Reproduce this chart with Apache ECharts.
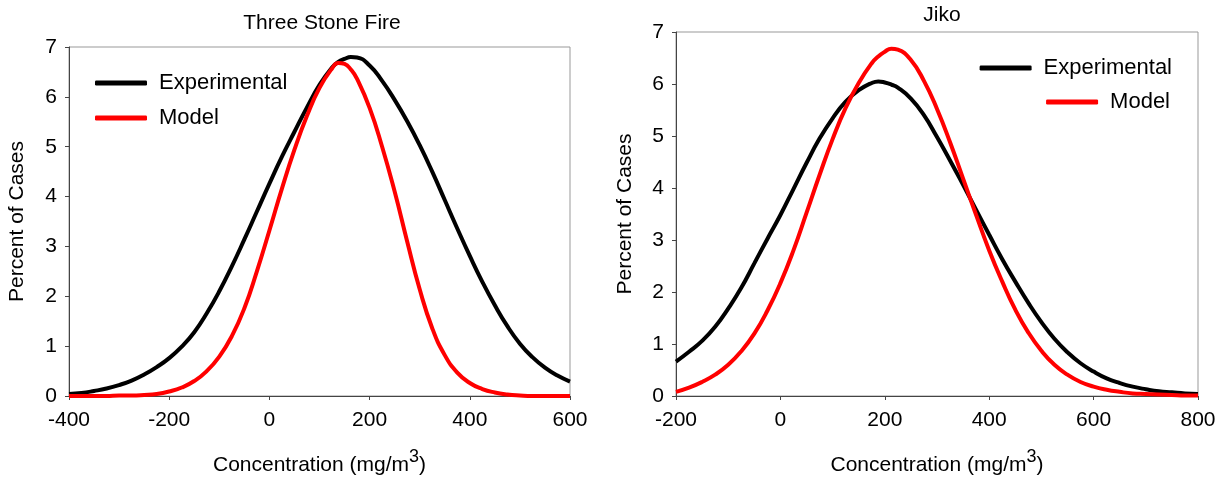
<!DOCTYPE html>
<html>
<head>
<meta charset="utf-8">
<script src="https://cdn.jsdelivr.net/npm/echarts@6/dist/echarts.min.js"></script>
<style>
  html, body { margin: 0; padding: 0; background: #fff; }
  #chart { width: 1226px; height: 481px; }
</style>
</head>
<body>
<div id="chart"></div>
<script>
// Three Stone Fire (left)
const leftX = [-400, -375, -350, -325, -300, -275, -250, -225, -200, -175, -150, -125, -100, -75, -50, -25,
  0, 25, 50, 75, 100, 125, 137.5, 150, 162.5, 175, 200, 225, 250, 275, 300, 325, 350, 375, 400, 425, 450, 475, 500, 525, 550, 575, 600]
const leftExp = [0.04, 0.06, 0.10, 0.15, 0.22, 0.31, 0.43, 0.58, 0.76, 0.99, 1.28, 1.66, 2.10, 2.60, 3.14, 3.70,
  4.26, 4.80, 5.30, 5.79, 6.24, 6.59, 6.70, 6.76, 6.80, 6.79, 6.63, 6.32, 5.94, 5.51, 5.03, 4.50, 3.93, 3.36, 2.81, 2.29, 1.82, 1.40, 1.05, 0.78, 0.57, 0.41, 0.29]
const leftModel = [0.00, 0.00, 0.00, 0.00, 0.01, 0.01, 0.02, 0.04, 0.09, 0.17, 0.30, 0.50, 0.79, 1.20, 1.76, 2.50,
  3.32, 4.16, 4.94, 5.62, 6.18, 6.57, 6.68, 6.66, 6.55, 6.36, 5.78, 5.00, 4.10, 3.10, 2.14, 1.36, 0.82, 0.47, 0.26, 0.14, 0.07, 0.03, 0.01, 0.00, 0.00, 0.00, 0.00]

// Jiko (right)
const rightX = [-200, -175, -150, -125, -100, -75, -50, -25, 0, 25, 50, 75, 100, 125, 150, 175, 187.5, 200, 212.5, 225, 250, 275,
  300, 325, 350, 375, 400, 425, 450, 475, 500, 525, 550, 575, 600, 625, 650, 675, 700, 725, 750, 775, 800]
const rightExp = [0.66, 0.85, 1.06, 1.33, 1.68, 2.08, 2.55, 3.02, 3.48, 3.98, 4.48, 4.95, 5.34, 5.66, 5.88, 6.02, 6.05, 6.03, 5.99, 5.93, 5.72, 5.40,
  4.98, 4.53, 4.06, 3.58, 3.10, 2.63, 2.20, 1.79, 1.42, 1.10, 0.84, 0.63, 0.47, 0.34, 0.25, 0.18, 0.13, 0.09, 0.07, 0.05, 0.04]
const rightModel = [0.08, 0.16, 0.27, 0.41, 0.60, 0.86, 1.20, 1.64, 2.17, 2.80, 3.52, 4.25, 4.94, 5.54, 6.02, 6.40, 6.53, 6.62, 6.68, 6.66, 6.46, 6.06,
  5.52, 4.88, 4.18, 3.48, 2.80, 2.20, 1.66, 1.22, 0.87, 0.60, 0.41, 0.27, 0.18, 0.12, 0.08, 0.05, 0.04, 0.03, 0.02, 0.01, 0.01]

const font = 'Liberation Sans, Arial, sans-serif'

const pairs = (xs, ys) => xs.map((x, i) => [x, ys[i]])

const xAxisOpt = (idx, min, max) => ({
  type: 'value',
  gridIndex: idx,
  min: min,
  max: max,
  interval: 200,
  name: '{a|Concentration (mg/m}{b|3}{a|)}',
  nameLocation: 'middle',
  nameGap: 52,
  nameTextStyle: {
    rich: {
      a: { fontSize: 21, fontFamily: font, color: '#000', lineHeight: 28, verticalAlign: 'bottom' },
      b: { fontSize: 18, fontFamily: font, color: '#000', lineHeight: 28, verticalAlign: 'top' }
    }
  },
  axisLine: { onZero: false, lineStyle: { color: '#444', width: 1 } },
  axisTick: { length: 4, lineStyle: { color: '#444' } },
  axisLabel: { fontSize: 21, fontFamily: font, color: '#000', margin: 14 },
  splitLine: { show: false }
})

const yAxisOpt = (idx, gap) => ({
  type: 'value',
  gridIndex: idx,
  min: 0,
  max: 7,
  interval: 1,
  name: 'Percent of Cases',
  nameLocation: 'middle',
  nameGap: gap,
  nameTextStyle: { fontSize: 21, fontFamily: font, color: '#000' },
  axisLine: { show: true, onZero: false, lineStyle: { color: '#444', width: 1 } },
  axisTick: { show: true, length: 4, lineStyle: { color: '#444' } },
  axisLabel: { fontSize: 21, fontFamily: font, color: '#000', margin: 12 },
  splitLine: { show: false }
})

const lineSeries = (name, idx, data, color) => ({
  name: name,
  type: 'line',
  xAxisIndex: idx,
  yAxisIndex: idx,
  data: data,
  smooth: 0.5,
  showSymbol: false,
  symbol: 'none',
  lineStyle: { color: color, width: 4 },
  itemStyle: { color: color },
  z: name === 'Model' ? 3 : 2
})

const legendText = { fontSize: 22, fontFamily: font, color: '#000', padding: [0, 0, 0, 7] }

const chart = echarts.init(document.getElementById('chart'))
chart.setOption({
  animation: false,
  backgroundColor: '#fff',
  title: [
    { text: 'Three Stone Fire', left: 317, textAlign: 'center', top: 8,
      textStyle: { fontSize: 21, fontWeight: 'normal', fontFamily: font, color: '#000' } },
    { text: 'Jiko', left: 937, textAlign: 'center', top: 0,
      textStyle: { fontSize: 21, fontWeight: 'normal', fontFamily: font, color: '#000' } }
  ],
  legend: [
    { data: ['Experimental', 'Model'], orient: 'vertical', left: 90, top: 67, itemGap: 13,
      itemWidth: 52, itemHeight: 5, icon: 'roundRect', textStyle: legendText, selectedMode: false },
    { data: ['Experimental'], right: 49, top: 52,
      itemWidth: 52, itemHeight: 5, icon: 'roundRect', textStyle: legendText, selectedMode: false },
    { data: ['Model'], right: 51, top: 86,
      itemWidth: 52, itemHeight: 5, icon: 'roundRect', textStyle: legendText, selectedMode: false }
  ],
  grid: [
    { left: 69, right: 656, top: 47, bottom: 85, show: true, borderColor: '#999', borderWidth: 1 },
    { left: 676, right: 28, top: 32, bottom: 83, show: true, borderColor: '#999', borderWidth: 1 }
  ],
  xAxis: [xAxisOpt(0, -400, 600), xAxisOpt(1, -200, 800)],
  yAxis: [yAxisOpt(0, 41), yAxisOpt(1, 40)],
  series: [
    lineSeries('Experimental', 0, pairs(leftX, leftExp), '#000000'),
    lineSeries('Model', 0, pairs(leftX, leftModel), '#ff0000'),
    lineSeries('Experimental', 1, pairs(rightX, rightExp), '#000000'),
    lineSeries('Model', 1, pairs(rightX, rightModel), '#ff0000')
  ]
})
</script>
</body>
</html>
